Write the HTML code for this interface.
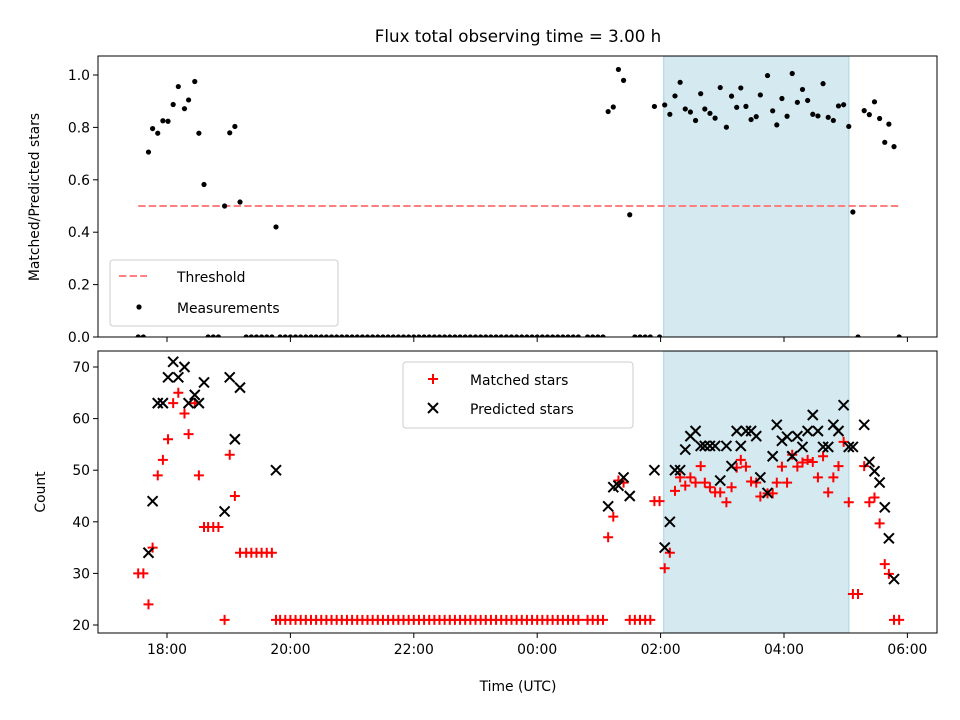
<!DOCTYPE html>
<html><head><meta charset="utf-8"><style>
body{margin:0;background:#fff}
svg{display:block;font-family:"DejaVu Sans","Liberation Sans",sans-serif}
</style></head><body>
<svg id="chart" width="960" height="720" viewBox="0 0 960 720" xmlns="http://www.w3.org/2000/svg">
<text x="518" y="42" font-size="16.7" text-anchor="middle">Flux total observing time = 3.00 h</text>
<text transform="translate(39,197) rotate(-90)" font-size="13.9" text-anchor="middle">Matched/Predicted stars</text>
<text transform="translate(45,492) rotate(-90)" font-size="13.9" text-anchor="middle">Count</text>
<text x="518" y="691" font-size="13.9" text-anchor="middle">Time (UTC)</text>
<defs>
<clipPath id="clipTop"><rect x="98" y="56" width="839" height="281"/></clipPath>
<clipPath id="clipBot"><rect x="98" y="351" width="839" height="282"/></clipPath>
</defs>
<g id="topPanel"></g>
<g id="botPanel"></g>
</svg>
<script>
const minutes=[-28,-23,-18,-14,-9,-4,1,6,11,17,21,27,31,36,40,45,50,56,61,66,71,77,82,87,92,97,102,106,
110,115,120,125,130,135,140,145,150,155,
160,165,170,175,180,185,190,195,200,205,
210,215,220,225,230,235,240,245,250,255,
260,265,270,275,280,285,290,295,300,305,
310,315,320,325,330,335,340,345,350,355,
360,365,370,375,380,385,390,395,400,
409,414,419,424,429,434,439,444,450,455,460,465,470,474,479,484,489,494,499,504,509,514,519,523,528,533,538,544,549,554,558,563,568,573,577,584,589,593,598,603,608,613,618,623,628,633,638,643,648,653,658,663,667,672,678,683,688,693,698,702,707,712];
const matched=[30,30,24,35,49,52,56,63,65,61,57,63,49,39,39,39,39,21,53,45,34,34,34,34,34,34,34,21,
21,21,21,21,21,21,21,21,21,21,
21,21,21,21,21,21,21,21,21,21,
21,21,21,21,21,21,21,21,21,21,
21,21,21,21,21,21,21,21,21,21,
21,21,21,21,21,21,21,21,21,21,
21,21,21,21,21,21,21,21,21,
21,21,21,21,37,41,48,47.6,21,21,21,21,21,44,44,
31,34,46,48.6,47,48.6,47.6,50.8,47.6,46.7,
45.7,45.7,43.8,46.7,50.5,52,50.7,47.8,47.6,44.9,
45.5,45.5,47.6,50.7,47.6,53,50.7,51.5,52,51.6,
48.6,52.7,45.7,48.6,50.8,55.5,43.8,26,26,50.8,
43.8,44.7,39.7,31.8,29.9,21,21];
const predicted=[null,null,34,44,63,63,68,71,68,70,63,64.6,63,67,null,null,null,42,68,56,66,null,null,null,null,null,null,50,
null,null,null,null,null,null,null,null,null,null,
null,null,null,null,null,null,null,null,null,null,
null,null,null,null,null,null,null,null,null,null,
null,null,null,null,null,null,null,null,null,null,
null,null,null,null,null,null,null,null,null,null,
null,null,null,null,null,null,null,null,null,
null,null,null,null,43,46.7,47,48.6,45,null,null,null,null,50,null,
35,40,50,50,54,56.6,57.6,54.7,54.7,54.7,
54.7,48,54.7,50.8,57.6,54.7,57.6,57.6,56.6,48.6,
45.6,52.7,58.8,55.7,56.5,52.7,56.6,54.5,57.6,60.7,
57.6,54.5,54.5,58.8,57.6,62.6,54.5,54.5,null,58.8,
51.6,49.8,47.6,42.8,36.8,28.9,null];
const shadeRange=[483,663];
const threshold=0.5;
const xTickMinutes=[0,120,240,360,480,600,720];
const xTickLabels=["18:00","20:00","22:00","00:00","02:00","04:00","06:00"];
const topTicks=[0,0.2,0.4,0.6,0.8,1.0];
const botTicks=[20,30,40,50,60,70];

const NS="http://www.w3.org/2000/svg";
const X0=98,X1=937,T0=56,T1=337,B0=351,B1=633;
const xDom=[-67.1,748.8];
function xS(m){return X0+(m-xDom[0])/(xDom[1]-xDom[0])*(X1-X0);}
function yT(r){return 337-r*262;}
function yB(c){return 625-(c-20)*5.16;}
function mk(tag,attrs,parent){const e=document.createElementNS(NS,tag);for(const k in attrs)e.setAttribute(k,attrs[k]);parent.appendChild(e);return e;}
const gTop=document.getElementById('topPanel'),gBot=document.getElementById('botPanel');

function panel(g,y0,y1,clip,name){
  const area=mk('g',{'clip-path':'url(#'+clip+')'},g);
  const sh=mk('rect',{x:xS(shadeRange[0]),y:y0,width:xS(shadeRange[1])-xS(shadeRange[0]),height:y1-y0,fill:'#d4e9f0',stroke:'#bcdbe6','stroke-width':1.5},area);
  
  
  return area;
}
const topArea=panel(gTop,T0,T1,'clipTop','top');
const botArea=panel(gBot,B0,B1,'clipBot','bottom');

const th=mk('line',{x1:xS(minutes[0]),x2:xS(minutes[minutes.length-1]),y1:yT(threshold),y2:yT(threshold),stroke:'#ff8080','stroke-width':2,'stroke-dasharray':'7.4,3.2'},topArea);



minutes.forEach((m,i)=>{
  const r=predicted[i]==null?0:matched[i]/predicted[i];
  const c=mk('circle',{cx:xS(m),cy:yT(r),r:2.6,fill:'#000'},topArea);
  
  
});
minutes.forEach((m,i)=>{
  const x=xS(m),y=yB(matched[i]);
  const p=mk('path',{d:`M${x-5},${y}H${x+5}M${x},${y-5}V${y+5}`,stroke:'#ff0000','stroke-width':2,fill:'none'},botArea);
  
  
});
minutes.forEach((m,i)=>{
  if(predicted[i]==null)return;
  const x=xS(m),y=yB(predicted[i]);
  const p=mk('path',{d:`M${x-5},${y-5}L${x+5},${y+5}M${x-5},${y+5}L${x+5},${y-5}`,stroke:'#000','stroke-width':2,fill:'none'},botArea);
  
  
});

function frame(g,y0,y1,name){
  const f=mk('rect',{x:X0,y:y0,width:X1-X0,height:y1-y0,fill:'none',stroke:'#000','stroke-width':1},g);
  
  
  xTickMinutes.forEach((m)=>{
    const t=mk('line',{x1:xS(m),x2:xS(m),y1:y1,y2:y1+5,stroke:'#000','stroke-width':1},g);
    
    
  });
}
frame(gTop,T0,T1,'top');frame(gBot,B0,B1,'bottom');
xTickMinutes.forEach((m,i)=>{
  const t=mk('text',{x:xS(m),y:B1+21,'font-size':13.9,'text-anchor':'middle'},gBot);
  t.textContent=xTickLabels[i];
  
  
});
topTicks.forEach(v=>{
  const y=yT(v);
  const l=mk('line',{x1:X0-5,x2:X0,y1:y,y2:y,stroke:'#000'},gTop);
  
  
  const t=mk('text',{x:X0-8,y:y+5,'font-size':13.9,'text-anchor':'end'},gTop);
  t.textContent=v.toFixed(1);
  
  
});
botTicks.forEach(v=>{
  const y=yB(v);
  const l=mk('line',{x1:X0-5,x2:X0,y1:y,y2:y,stroke:'#000'},gBot);
  
  
  const t=mk('text',{x:X0-8,y:y+5,'font-size':13.9,'text-anchor':'end'},gBot);
  t.textContent=v;
  
  
});

const lg1=mk('g',{},gTop);


mk('rect',{x:110,y:260,width:228,height:66,rx:3,fill:'#fff','fill-opacity':0.8,stroke:'#ccc'},lg1);
mk('line',{x1:119,x2:147,y1:276,y2:276,stroke:'#ff8080','stroke-width':2,'stroke-dasharray':'7.4,3.2'},lg1);
const t1=mk('text',{x:177,y:282,'font-size':13.9},lg1);t1.textContent='Threshold';


mk('circle',{cx:139,cy:307,r:2.6,fill:'#000'},lg1);
const t2=mk('text',{x:177,y:313,'font-size':13.9},lg1);t2.textContent='Measurements';



const lg2=mk('g',{},gBot);


mk('rect',{x:403,y:362,width:230,height:66,rx:3,fill:'#fff','fill-opacity':0.8,stroke:'#ccc'},lg2);
mk('path',{d:'M428,379H438M433,374V384',stroke:'#f00','stroke-width':2},lg2);
const t3=mk('text',{x:470,y:385,'font-size':13.9},lg2);t3.textContent='Matched stars';


mk('path',{d:'M428,403L438,413M428,413L438,403',stroke:'#000','stroke-width':2},lg2);
const t4=mk('text',{x:470,y:414,'font-size':13.9},lg2);t4.textContent='Predicted stars';


</script>
</body></html>
